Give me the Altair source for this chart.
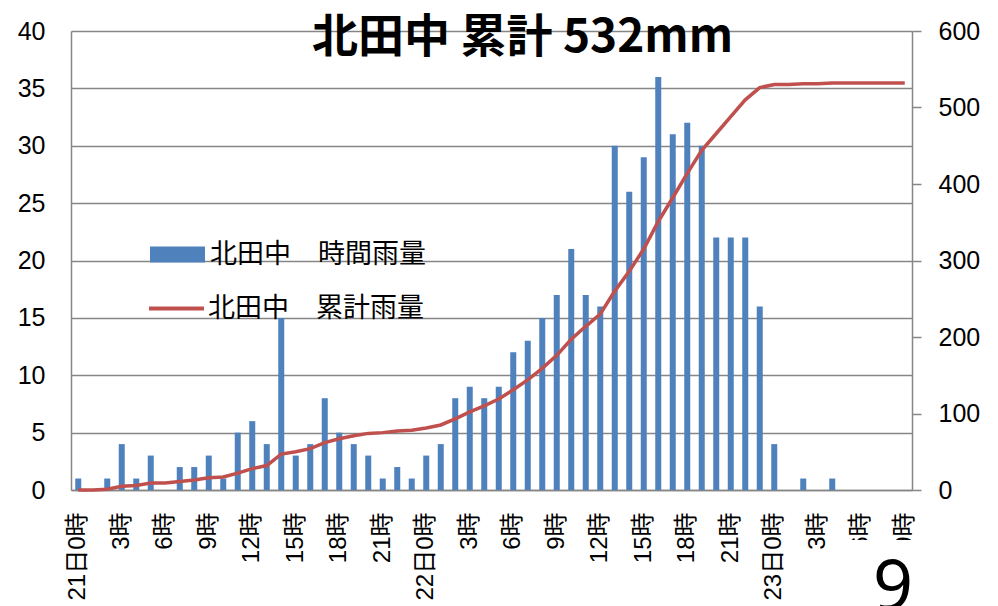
import altair as alt
import numpy as np
import pandas as pd

# Hourly slots: 21日0時 .. 23日9時
days = ["21日"] * 24 + ["22日"] * 24 + ["23日"] * 10
hours = list(range(24)) + list(range(24)) + list(range(10))
slots = [f"{d}{h}時" for d, h in zip(days, hours)]
tick_slots = slots[::3]

# Hourly rainfall (mm)
hourly_mm = [
    1, 0, 1, 4, 1, 3, 0, 2, 2, 3, 1, 5, 6, 4, 15, 3, 4, 8, 5, 4, 3, 1, 2, 1,
    3, 4, 8, 9, 8, 9, 12, 13, 15, 17, 21, 17, 16, 30, 26, 29, 36, 31, 32, 30, 22, 22, 22, 16,
    4, 0, 1, 0, 1, 0, 0, 0, 0, 0,
]

# Event total counted from 21日1時 onward
total_mm = np.cumsum(hourly_mm) - hourly_mm[0]

bar_name = "北田中　時間雨量"
line_name = "北田中　累計雨量"
title_text = "北田中 累計 532mm"

df = pd.DataFrame({
    "slot": slots,
    "rain": hourly_mm,
    "total": total_mm,
    "s_bar": bar_name,
    "s_line": line_name,
})

GRID = "#868686"
BLUE = "#4F81BD"
RED = "#C0504D"
NUM_FONT = "Liberation Sans, Noto Sans CJK JP"
JP_FONT = "Noto Sans CJK JP"

x_enc = alt.X(
    "slot:O",
    sort=slots,
    scale=alt.Scale(paddingInner=0, paddingOuter=0),
    axis=alt.Axis(
        title=None,
        values=tick_slots,
        labelExpr="indexof(datum.value, '日0時') >= 0 ? datum.value : split(datum.value, '日')[1]",
        labelAngle=270,
        labelAlign="right",
        labelBaseline="middle",
        labelFont=NUM_FONT,
        labelFontSize=24,
        labelColor="black",
        labelPadding=22,
        ticks=False,
        tickSize=0,
        domainColor=GRID,
        domainWidth=1.5,
        grid=False,
        labelOverlap=False,
    ),
)

bars = alt.Chart(df).mark_bar(size=6).encode(
    x=x_enc,
    y=alt.Y(
        "rain:Q",
        scale=alt.Scale(domain=[0, 40], nice=False),
        axis=alt.Axis(
            title=None,
            values=list(range(0, 45, 5)),
            labelFont=NUM_FONT,
            labelFontSize=25,
            labelColor="black",
            labelPadding=26,
            ticks=False,
            tickSize=0,
            grid=True,
            gridColor=GRID,
            gridWidth=1.5,
            domainColor=GRID,
            domainWidth=1.5,
        ),
    ),
    color=alt.Color(
        "s_bar:N",
        scale=alt.Scale(domain=[bar_name], range=[BLUE]),
        legend=alt.Legend(
            title=None,
            orient="none",
            legendX=79,
            legendY=196,
            padding=0,
            symbolType="M-1,-0.29L1,-0.29L1,0.29L-1,0.29Z",
            symbolSize=3025,
            symbolStrokeWidth=0,
            symbolOpacity=1,
            labelFont=JP_FONT,
            labelFontSize=27,
            labelColor="black",
            labelOffset=5,
            labelLimit=400,
        ),
    ),
)

line = alt.Chart(df).mark_line(strokeWidth=3.5).encode(
    x=x_enc,
    y=alt.Y(
        "total:Q",
        scale=alt.Scale(domain=[0, 600], nice=False),
        axis=alt.Axis(
            title=None,
            orient="right",
            values=list(range(0, 700, 100)),
            labelFont=NUM_FONT,
            labelFontSize=25,
            labelColor="black",
            labelPadding=17,
            ticks=True,
            tickSize=9,
            tickColor=GRID,
            tickWidth=1.5,
            grid=False,
            domainColor=GRID,
            domainWidth=1.5,
        ),
    ),
    stroke=alt.Stroke(
        "s_line:N",
        scale=alt.Scale(domain=[line_name], range=[RED]),
        legend=alt.Legend(
            title=None,
            orient="none",
            legendX=76,
            legendY=248,
            padding=0,
            symbolType="stroke",
            symbolSize=3025,
            symbolStrokeWidth=4,
            labelFont=JP_FONT,
            labelFontSize=27,
            labelColor="black",
            labelOffset=2,
            labelLimit=400,
        ),
    ),
)

# White patch over the lower right corner and the large "9" drawn on it
patch = alt.Chart(pd.DataFrame({"k": [0]})).mark_rect(color="white").encode(
    x=alt.value(774), x2=alt.value(860), y=alt.value(509), y2=alt.value(580)
)
nine = alt.Chart(pd.DataFrame({"t": ["9"]})).mark_text(
    font="Noto Sans", fontSize=70, align="center", baseline="alphabetic", color="black"
).encode(text="t:N", x=alt.value(822), y=alt.value(579))

chart = (
    alt.layer(bars, line, patch, nine)
    .resolve_scale(y="independent", color="independent", stroke="independent")
    .properties(
        width=841,
        height=459,
        autosize=alt.AutoSizeParams(type="none"),
        padding={"left": 71, "top": 31, "right": 86, "bottom": 116},
        title=alt.Title(
            title_text,
            font=JP_FONT,
            fontSize=46,
            fontWeight="bold",
            color="black",
            anchor="middle",
            dx=31,
            offset=0,
            dy=43,
        ),
        background="white",
    )
    .configure_view(stroke=None)
)

chart.save("out.html", embed_options={"renderer": "svg", "actions": False})
